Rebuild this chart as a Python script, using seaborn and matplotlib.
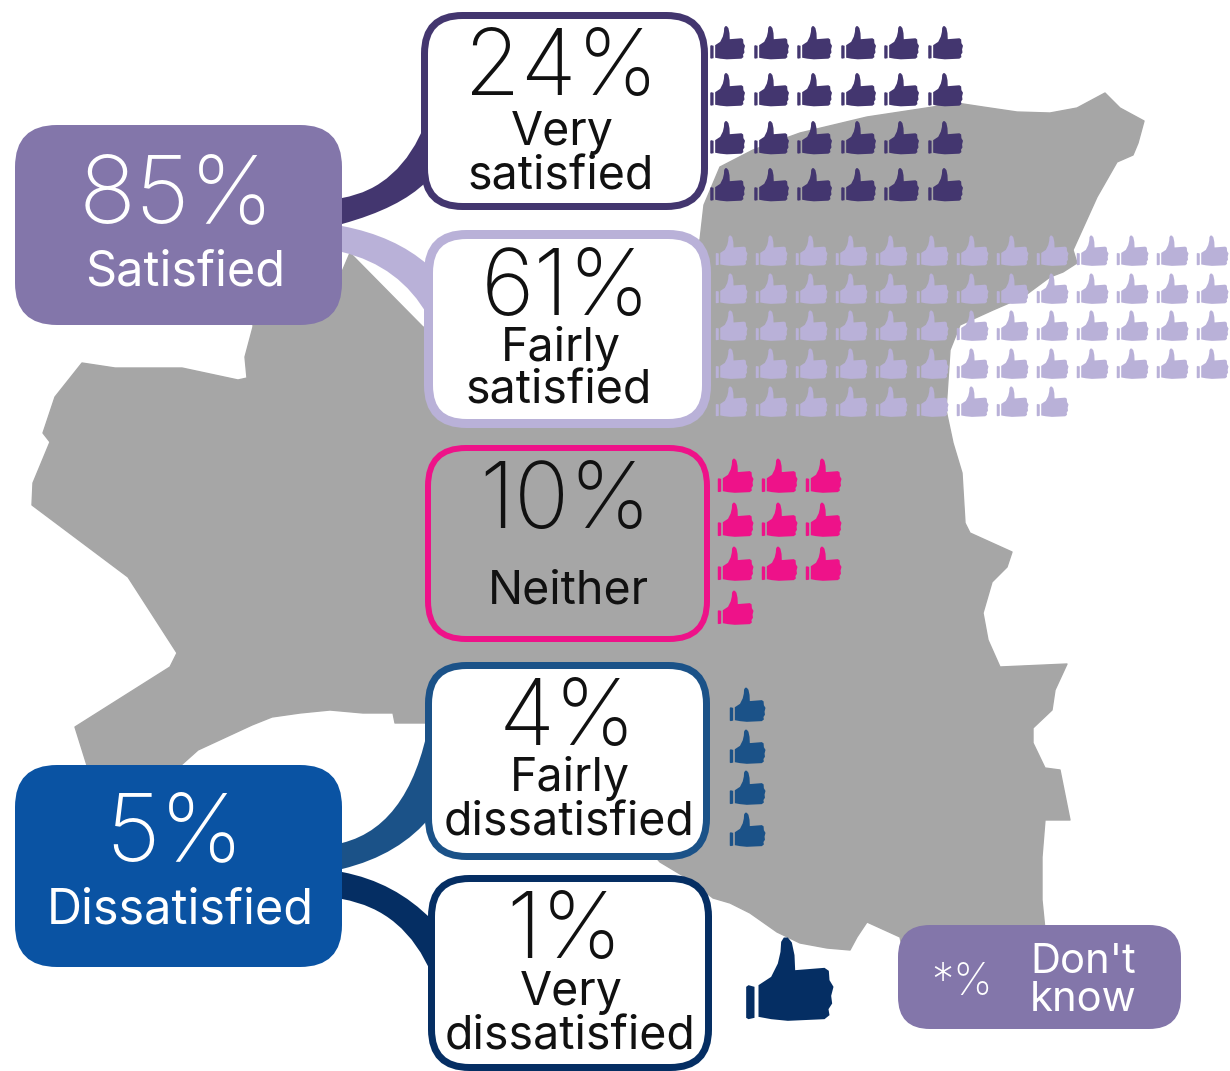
import matplotlib
matplotlib.use('Agg')
import matplotlib.pyplot as plt
from matplotlib.patches import FancyBboxPatch, PathPatch, Polygon
from matplotlib.path import Path
import numpy as np
import pandas as pd
import seaborn as sns

##### Data
answers = ['Very\nsatisfied', 'Fairly\nsatisfied', 'Neither', 'Fairly\ndissatisfied', 'Very\ndissatisfied']
percents = [24, 61, 10, 4, 1]
colours = ['#43366F', '#B9B1D8', '#EE1289', '#1B5288', '#052E63']
group_labels = ['Satisfied', 'Dissatisfied']
group_percents = [85, 5]
group_colours = ['#8376AA', '#0A53A3']
dont_know_value = '*%'
dont_know_label = "Don't\nknow"

##### Theme and font
sns.set_theme(style='white')
plt.rcParams['font.family'] = ['Inter', 'DejaVu Sans']

fig = plt.figure(figsize=(12.3, 10.71), dpi=100)
ax = fig.add_axes([0, 0, 1, 1])
ax.set_xlim(0, 1230)
ax.set_ylim(1071, 0)
ax.axis('off')

px = 0.72  # 1 pixel in points

##### Grey map behind everything
map_outline = [
    (1105, 93), (1120, 108), (1144, 121), (1138, 143), (1133, 155), (1117, 162), (1097, 197),
    (1073, 250), (1077, 263), (1063, 272), (1050, 277), (1023, 297), (993, 310), (960, 325),
    (950, 350), (946, 410), (953, 443), (962, 473), (965, 523), (970, 533), (1012, 552),
    (1007, 567), (992, 582), (983, 613), (988, 640), (1000, 667), (1067, 664), (1055, 690),
    (1052, 710), (1033, 728), (1033, 743), (1045, 768), (1060, 770), (1070, 820), (1045, 820),
    (1042, 857), (1042, 900), (1045, 930), (1045, 960), (905, 960), (900, 937), (867, 922),
    (857, 937), (850, 950), (827, 948), (800, 943), (777, 932), (750, 913), (730, 903),
    (713, 898), (690, 880), (660, 862), (640, 840), (430, 723), (395, 723), (393, 713),
    (363, 713), (330, 710), (300, 713), (272, 717), (252, 725), (198, 750), (170, 775),
    (90, 775), (75, 727), (170, 667), (177, 653), (128, 577), (32, 505), (33, 483), (50, 442),
    (43, 433), (55, 397), (82, 363), (115, 368), (182, 368), (238, 380), (247, 378), (245, 357),
    (253, 327), (253, 300), (330, 300), (350, 253), (423, 327), (440, 330), (700, 240),
    (704, 205), (720, 167), (753, 150), (800, 133), (867, 117), (933, 107), (950, 102),
    (983, 107), (1017, 112), (1050, 113), (1077, 108),
]
ax.add_patch(Polygon(map_outline, closed=True, facecolor='#A6A6A6', edgecolor='#A6A6A6',
                     lw=1, joinstyle='round', zorder=1))


##### Curved connector bands
def band(top_start, top_ctrl, top_end, low_end, low_ctrl, low_start, colour):
    verts = [top_start, top_ctrl, top_end, low_end, low_ctrl, low_start, top_start]
    codes = [Path.MOVETO, Path.CURVE3, Path.CURVE3, Path.LINETO, Path.CURVE3, Path.CURVE3, Path.CLOSEPOLY]
    ax.add_patch(PathPatch(Path(verts, codes), facecolor=colour, edgecolor='none', zorder=2))


band((342, 198), (400, 188), (426, 122), (426, 182), (400, 208), (342, 224), colours[0])
band((342, 226), (395, 236), (428, 265), (428, 316), (400, 266), (342, 252), colours[1])
band((342, 843), (415, 825), (432, 705), (432, 815), (400, 855), (342, 869), colours[3])
band((342, 872), (395, 882), (432, 920), (432, 975), (405, 910), (342, 899), colours[4])


##### Rounded boxes
def box(left, top, right, bottom, radius, face, edge=None, border=0):
    inset = border / 2
    ax.add_patch(FancyBboxPatch(
        (left + inset, top + inset), right - left - border, bottom - top - border,
        boxstyle=f'round,pad=0,rounding_size={radius}', facecolor=face,
        edgecolor=edge if edge else 'none', lw=border * px, zorder=3))


box(421, 12, 708, 210, 38, 'white', colours[0], 7)
box(424, 230, 711, 428, 38, 'white', colours[1], 9)
box(425, 445, 710, 642, 38, 'none', colours[2], 6)
box(425, 662, 710, 860, 38, 'white', colours[3], 7)
box(428, 875, 712, 1071, 38, 'white', colours[4], 7)
box(15, 125, 342, 325, 42, group_colours[0])
box(15, 765, 342, 967, 42, group_colours[1])
box(898, 925, 1181, 1029, 32, group_colours[0])

##### Thumb marker, outline traced from the large icon
thumb = np.array([
    (112, 190), (150, 165), (170, 125), (178, 90), (180, 60), (188, 47), (200, 47), (212, 62), (220, 100),
    (222, 145), (310, 138), (323, 147), (325, 175), (337, 195), (330, 222), (333, 245), (322, 262), (325, 280),
    (310, 292), (200, 297), (150, 292), (112, 285), (112, 190),
    (75, 195), (82, 190), (100, 195), (100, 288), (82, 292), (75, 288), (75, 195),
], dtype=float)
thumb = (thumb - [205, 170]) / [130, -130]
codes = [Path.MOVETO] + [Path.LINETO] * 21 + [Path.CLOSEPOLY] + [Path.MOVETO] + [Path.LINETO] * 5 + [Path.CLOSEPOLY]
thumb_marker = Path(thumb, codes)

##### One thumb per percentage point, laid out in a grid
columns = [6, 13, 3, 1, 1]
x_starts = [727, 731, 735, 747, 789]
y_starts = [42, 250, 475, 704, 978]
x_steps = [43.6, 40.1, 44, 0, 0]
y_steps = [47.4, 37.7, 44, 41.6, 0]
thumb_sizes = [35, 32, 36, 36, 88]

rows = []
for name, n, cols, x0, y0, dx, dy, size in zip(answers, percents, columns, x_starts, y_starts,
                                               x_steps, y_steps, thumb_sizes):
    for i in range(n):
        rows.append({'answer': name, 'x': x0 + (i % cols) * dx, 'y': y0 + (i // cols) * dy,
                     'size': size})
thumbs = pd.DataFrame(rows)

for name, colour in zip(answers, colours):
    part = thumbs[thumbs['answer'] == name]
    sns.scatterplot(data=part, x='x', y='y', ax=ax, color=colour, marker=thumb_marker,
                    s=(part['size'].iloc[0] * px) ** 2, linewidth=0, legend=False, zorder=4, clip_on=False)
ax.set_xlim(0, 1230)
ax.set_ylim(1071, 0)
ax.axis('off')


##### Text, placed by baseline
def label(x, y, text, size, colour='#111111', weight='normal'):
    ax.text(x, y, text, fontsize=size, color=colour, ha='center', va='baseline', fontweight=weight, zorder=5)


number_pos = [(561, 95), (566, 315), (565, 528), (568, 745), (565, 958)]
word_pos = [[(562, 145), (561, 189)], [(561, 361), (559, 404)], [(568, 603)],
            [(570, 791), (569, 836)], [(571, 1005), (570, 1049)]]
for p, pos, words, name in zip(percents, number_pos, word_pos, answers):
    label(pos[0], pos[1], f'{p}%', 66, weight='light')
    for w, wp in zip(name.split('\n'), words):
        label(wp[0], wp[1], w, 33.5)

label(176, 222, f'{group_percents[0]}%', 68, 'white', 'light')
label(185, 285, group_labels[0], 35, 'white')
label(175, 860, f'{group_percents[1]}%', 68, 'white', 'light')
label(180, 924, group_labels[1], 35, 'white')

label(962, 995, dont_know_value, 32, 'white', 'light')
for w, y in zip(dont_know_label.split('\n'), [973, 1011]):
    label(1083, y, w, 30, 'white')

fig.savefig('out.png', dpi=100)
